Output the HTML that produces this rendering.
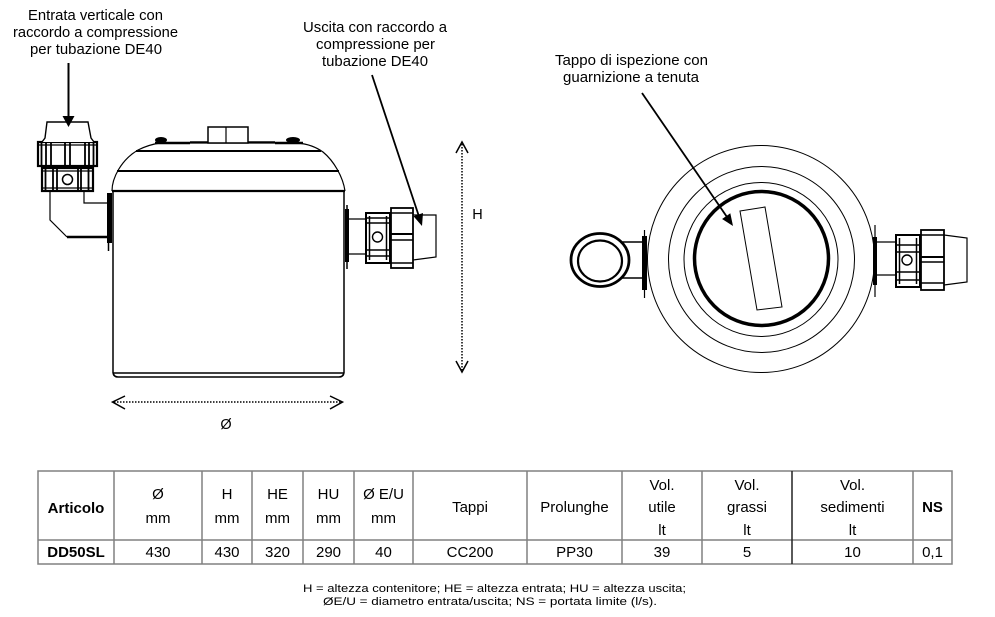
<!DOCTYPE html>
<html><head><meta charset="utf-8"><style>
html,body{margin:0;padding:0;background:#fff;}
svg{display:block;}
</style></head><body>
<svg width="995" height="617" viewBox="0 0 995 617" xmlns="http://www.w3.org/2000/svg">
<rect width="995" height="617" fill="#fff"/>
<!-- Labels -->
<g font-family="Liberation Sans, Arial, sans-serif" font-size="14.5" text-anchor="middle" fill="#000">
<text x="95.5" y="20" textLength="135" lengthAdjust="spacingAndGlyphs">Entrata verticale con</text>
<text x="95.5" y="37" textLength="165" lengthAdjust="spacingAndGlyphs">raccordo a compressione</text>
<text x="96" y="54" textLength="132" lengthAdjust="spacingAndGlyphs">per tubazione DE40</text>
<text x="375" y="32" textLength="144" lengthAdjust="spacingAndGlyphs">Uscita con raccordo a</text>
<text x="375.5" y="49" textLength="119" lengthAdjust="spacingAndGlyphs">compressione per</text>
<text x="375" y="66" textLength="106" lengthAdjust="spacingAndGlyphs">tubazione DE40</text>
<text x="631.5" y="65" textLength="153" lengthAdjust="spacingAndGlyphs">Tappo di ispezione con</text>
<text x="631" y="82" textLength="136" lengthAdjust="spacingAndGlyphs">guarnizione a tenuta</text>
<text x="477.5" y="219">H</text>
<text x="226" y="429">Ø</text>
</g>

<!-- SIDE VIEW -->
<g stroke="#000" fill="none" stroke-linecap="butt">
<!-- tank body -->
<line x1="113" y1="191" x2="113" y2="373" stroke-width="1.5"/>
<line x1="344" y1="191" x2="344" y2="373" stroke-width="1.5"/>
<line x1="113" y1="373" x2="344" y2="373" stroke-width="1.6"/>
<path d="M113 373 Q114 377 118 377 L339 377 Q343 377 344 373" stroke-width="1.6"/>
<!-- dome -->
<path d="M112 191 C112 178 121 160 138 150 C146 146 153 144 160 143 L298 143 C308 144 316 147 323 152 C334 161 343 177 345 191" stroke-width="1.2"/>
<line x1="112" y1="191" x2="345" y2="191" stroke-width="2.2"/>
<line x1="117" y1="171" x2="339" y2="171" stroke-width="2"/>
<line x1="136" y1="151" x2="321" y2="151" stroke-width="2"/>
<line x1="155" y1="143" x2="190" y2="143" stroke-width="2.5"/>
<line x1="275" y1="143" x2="303" y2="143" stroke-width="2.5"/>
<ellipse cx="161" cy="140" rx="6" ry="3" fill="#000" stroke="none"/>
<ellipse cx="293" cy="140" rx="7" ry="3" fill="#000" stroke="none"/>
<line x1="190" y1="142" x2="208" y2="142" stroke-width="1.5"/>
<line x1="248" y1="142" x2="275" y2="142" stroke-width="1.5"/>
<rect x="208" y="127" width="40" height="16" stroke-width="1.5" fill="#fff"/>
<line x1="226" y1="127" x2="226" y2="143" stroke-width="1.2"/>

<!-- inlet flange & elbow -->
<rect x="107" y="193" width="5" height="50" fill="#000" stroke="none"/>
<line x1="108.5" y1="243" x2="108.5" y2="251" stroke-width="1.5"/>
<path d="M50 191 L50 220 L67 237" stroke-width="1.2"/>
<line x1="67" y1="237" x2="107" y2="237" stroke-width="2.5"/>
<path d="M84 191 L84 203 L107 203" stroke-width="1.2"/>
<!-- inlet lower nut -->
<rect x="42" y="168" width="51" height="23" stroke-width="2.2" fill="#fff"/>
<line x1="42" y1="171" x2="93" y2="171" stroke-width="1.2"/>
<line x1="42" y1="188" x2="93" y2="188" stroke-width="1.2"/>
<g stroke-width="1.8">
<line x1="45.5" y1="168" x2="45.5" y2="191"/>
<line x1="53" y1="168" x2="53" y2="191"/>
<line x1="57" y1="168" x2="57" y2="191"/>
<line x1="78" y1="168" x2="78" y2="191"/>
<line x1="81" y1="168" x2="81" y2="191"/>
<line x1="88.5" y1="168" x2="88.5" y2="191"/>
</g>
<circle cx="67.5" cy="179.5" r="5" stroke-width="1.5" fill="#fff"/>
<!-- inlet upper nut -->
<rect x="38" y="142" width="59" height="24" stroke-width="2.2" fill="#fff"/>
<line x1="38" y1="145" x2="97" y2="145" stroke-width="1.2"/>
<g stroke-width="1.8">
<line x1="41.5" y1="142" x2="41.5" y2="166"/>
<line x1="46" y1="142" x2="46" y2="166"/>
<line x1="51" y1="142" x2="51" y2="166"/>
<line x1="65" y1="142" x2="65" y2="166"/>
<line x1="70" y1="142" x2="70" y2="166"/>
<line x1="85" y1="142" x2="85" y2="166"/>
<line x1="89" y1="142" x2="89" y2="166"/>
<line x1="93.5" y1="142" x2="93.5" y2="166"/>
</g>
<path d="M42 142 L45 138 L47 122 L88 122 L91 138 L94 142" stroke-width="1.4" fill="#fff"/>
<!-- inlet arrow -->
<line x1="68.5" y1="63" x2="68.5" y2="117" stroke-width="2"/>
<polygon points="62.5,116 74.5,116 68.5,127" fill="#000" stroke="none"/>

<!-- outlet -->
<rect x="345" y="209" width="4" height="53" fill="#000" stroke="none"/>
<line x1="347" y1="205" x2="347" y2="269" stroke-width="1.5"/>
<line x1="349" y1="219" x2="366" y2="219" stroke-width="1.2"/>
<line x1="349" y1="254" x2="366" y2="254" stroke-width="1.2"/>
<rect x="366" y="213" width="24" height="50" stroke-width="2" fill="#fff"/>
<line x1="369.5" y1="216" x2="369.5" y2="260" stroke-width="1.5"/>
<line x1="386.5" y1="216" x2="386.5" y2="260" stroke-width="1.5"/>
<line x1="366" y1="218" x2="390" y2="218" stroke-width="1.5"/>
<line x1="366" y1="223" x2="390" y2="223" stroke-width="1.5"/>
<line x1="366" y1="250" x2="390" y2="250" stroke-width="1.5"/>
<line x1="366" y1="256" x2="390" y2="256" stroke-width="1.5"/>
<circle cx="377.5" cy="237" r="5" stroke-width="1.4" fill="#fff"/>
<path d="M413 215 L436 215 L436 257 L413 260" stroke-width="1.2" fill="#fff"/>
<rect x="391" y="208" width="22" height="60" stroke-width="1.8" fill="#fff"/>
<line x1="391" y1="213" x2="413" y2="213" stroke-width="1.5"/>
<line x1="391" y1="234" x2="413" y2="234" stroke-width="2"/>
<line x1="391" y1="240" x2="413" y2="240" stroke-width="1.5"/>
<line x1="391" y1="263" x2="413" y2="263" stroke-width="1.5"/>
<!-- outlet arrow -->
<line x1="372" y1="75" x2="418.5" y2="215" stroke-width="1.8"/>
<polygon points="423,213 413.5,216.2 422,226" fill="#000" stroke="none"/>

<!-- H dimension -->
<line x1="462" y1="144" x2="462" y2="370" stroke-width="1.5" stroke-dasharray="1.5 1.5"/>
<path d="M456 153 L462 142 L468 153" stroke-width="1.5"/>
<path d="M456 361 L462 372 L468 361" stroke-width="1.5"/>
<!-- Ø dimension -->
<line x1="114" y1="402" x2="341" y2="402" stroke-width="1.5" stroke-dasharray="1.5 1.5"/>
<path d="M125 396 L112.5 402 L125 409" stroke-width="1.5"/>
<path d="M330 396 L342.5 402 L330 409" stroke-width="1.5"/>
</g>

<!-- TOP VIEW -->
<g stroke="#000" fill="none">
<circle cx="761" cy="259" r="113.5" stroke-width="1"/>
<circle cx="761.5" cy="259.5" r="93" stroke-width="1"/>
<circle cx="761" cy="259.5" r="77" stroke-width="1"/>
<circle cx="761.5" cy="258.5" r="67" stroke-width="3.5"/>
<polygon points="740,211 765,207 782,307 757,310" stroke-width="1"/>
<!-- left side -->
<line x1="612" y1="242" x2="642" y2="242" stroke-width="1.5"/>
<line x1="612" y1="278" x2="642" y2="278" stroke-width="1.5"/>
<rect x="642" y="236" width="5" height="54" fill="#000" stroke="none"/>
<line x1="644.5" y1="230" x2="644.5" y2="298" stroke-width="1.2"/>
<ellipse cx="600" cy="260" rx="29" ry="26.5" stroke-width="2.8" fill="#fff"/>
<ellipse cx="600" cy="261" rx="22" ry="20.5" stroke-width="2.2"/>
<!-- right side -->
<rect x="873" y="237" width="4" height="48" fill="#000" stroke="none"/>
<line x1="875" y1="225" x2="875" y2="297" stroke-width="1.2"/>
<line x1="877" y1="242" x2="897" y2="242" stroke-width="1.3"/>
<line x1="877" y1="275" x2="897" y2="275" stroke-width="1.3"/>
<rect x="896" y="235" width="24" height="52" stroke-width="2" fill="#fff"/>
<line x1="899.5" y1="238" x2="899.5" y2="284" stroke-width="1.5"/>
<line x1="916.5" y1="238" x2="916.5" y2="284" stroke-width="1.5"/>
<line x1="896" y1="245" x2="920" y2="245" stroke-width="1.5"/>
<line x1="896" y1="252" x2="920" y2="252" stroke-width="1.5"/>
<line x1="896" y1="272" x2="920" y2="272" stroke-width="1.5"/>
<line x1="896" y1="280" x2="920" y2="280" stroke-width="1.5"/>
<circle cx="907" cy="260" r="5" stroke-width="1.4" fill="#fff"/>
<path d="M944 235 L967 238 L967 282 L944 285" stroke-width="1.2" fill="#fff"/>
<rect x="921" y="230" width="23" height="60" stroke-width="1.8" fill="#fff"/>
<line x1="921" y1="235" x2="944" y2="235" stroke-width="1.5"/>
<line x1="921" y1="257" x2="944" y2="257" stroke-width="2"/>
<line x1="921" y1="262" x2="944" y2="262" stroke-width="1.5"/>
<line x1="921" y1="283" x2="944" y2="283" stroke-width="1.5"/>
<!-- arrow -->
<line x1="642" y1="93" x2="727" y2="217" stroke-width="1.8"/>
<polygon points="730.3,213.3 722.1,219 733,226" fill="#000" stroke="none"/>
</g>

<!-- TABLE -->
<g stroke="#808080" stroke-width="1.5" fill="none">
<rect x="38" y="471" width="914" height="93"/>
<line x1="38" y1="540" x2="952" y2="540"/>
<line x1="114" y1="471" x2="114" y2="564"/>
<line x1="202" y1="471" x2="202" y2="564"/>
<line x1="252" y1="471" x2="252" y2="564"/>
<line x1="303" y1="471" x2="303" y2="564"/>
<line x1="354" y1="471" x2="354" y2="564"/>
<line x1="413" y1="471" x2="413" y2="564"/>
<line x1="527" y1="471" x2="527" y2="564"/>
<line x1="622" y1="471" x2="622" y2="564"/>
<line x1="702" y1="471" x2="702" y2="564"/>
<line x1="792" y1="471" x2="792" y2="564" stroke="#222"/>
<line x1="913" y1="471" x2="913" y2="564"/>
</g>
<g font-family="Liberation Sans, Arial, sans-serif" font-size="15" text-anchor="middle" fill="#000">
<text x="76" y="513" font-weight="bold">Articolo</text>
<text x="158" y="499">Ø</text><text x="158" y="523">mm</text>
<text x="227" y="499">H</text><text x="227" y="523">mm</text>
<text x="277.5" y="499">HE</text><text x="277.5" y="523">mm</text>
<text x="328.5" y="499">HU</text><text x="328.5" y="523">mm</text>
<text x="383.5" y="499">Ø E/U</text><text x="383.5" y="523">mm</text>
<text x="470" y="512">Tappi</text>
<text x="574.5" y="512">Prolunghe</text>
<text x="662" y="490">Vol.</text><text x="662" y="512">utile</text><text x="662" y="535">lt</text>
<text x="747" y="490">Vol.</text><text x="747" y="512">grassi</text><text x="747" y="535">lt</text>
<text x="852.5" y="490">Vol.</text><text x="852.5" y="512">sedimenti</text><text x="852.5" y="535">lt</text>
<text x="932.5" y="512" font-weight="bold">NS</text>
<text x="76" y="557" font-weight="bold">DD50SL</text>
<text x="158" y="557">430</text>
<text x="227" y="557">430</text>
<text x="277.5" y="557">320</text>
<text x="328.5" y="557">290</text>
<text x="383.5" y="557">40</text>
<text x="470" y="557">CC200</text>
<text x="574.5" y="557">PP30</text>
<text x="662" y="557">39</text>
<text x="747" y="557">5</text>
<text x="852.5" y="557">10</text>
<text x="932.5" y="557">0,1</text>
</g>
<g font-family="Liberation Sans, Arial, sans-serif" font-size="11" text-anchor="middle" fill="#000">
<text x="494.5" y="592" textLength="383" lengthAdjust="spacingAndGlyphs">H = altezza contenitore; HE = altezza entrata; HU = altezza uscita;</text>
<text x="490" y="605" textLength="334" lengthAdjust="spacingAndGlyphs">ØE/U = diametro entrata/uscita; NS = portata limite (l/s).</text>
</g>
</svg>
</body></html>
